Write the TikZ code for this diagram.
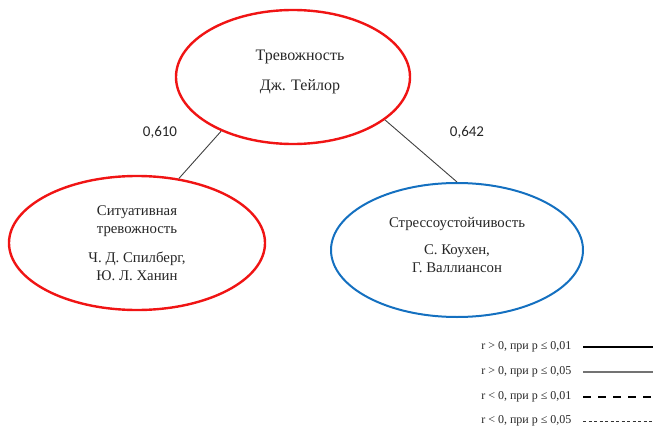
\documentclass[tikz,border=0pt]{standalone}
\usepackage{fontspec}
\setmainfont{Liberation Serif}
\newfontfamily\numfont{Carlito}
\usetikzlibrary{shapes.geometric}
\definecolor{ellred}{RGB}{240,20,20}
\definecolor{ellblue}{RGB}{20,112,192}
\begin{document}
\begin{tikzpicture}[x=1pt,y=-1pt,
  ell/.style={ellipse,inner sep=0pt,align=center,font=\fontsize{14.8}{17.5}\selectfont,text=black!85},
  redell/.style={ell,draw=ellred,line width=2.4pt},
  blueell/.style={ell,draw=ellblue,line width=2pt},
  link/.style={draw=black!75,line width=0.9pt},
  num/.style={font=\numfont\fontsize{15}{18}\selectfont,text=black!85},
  legtext/.style={font=\fontsize{12}{14}\selectfont,anchor=east,text=black!85},
]
\useasboundingbox (0,0) rectangle (653,428);
\node[redell,minimum width=234pt,minimum height=134pt] (top) at (293,77) {};
\node[ell,font=\fontsize{16}{19}\selectfont] (toptext) at (300,71.5)
  {Тревожность\\[11pt]Дж. Тейлор};
\node[redell,minimum width=256pt,minimum height=134pt] (left) at (137,243)
  {Ситуативная\\тревожность\\[12pt]Ч. Д. Спилберг,\\Ю. Л. Ханин};
\node[blueell,minimum width=252pt,minimum height=134pt] (right) at (457,250) {};
\node[ell] (righttext) at (457,245)
  {Стрессоустойчивость\\[10pt]С. Коухен,\\Г. Валлиансон};
\draw[link] (top.217) -- (left.57);
\draw[link] (top.-25) -- (right.90);
\node[num] (n1) at (160,132) {0,610};
\node[num] (n2) at (467,132) {0,642};
\node[legtext] (l1) at (575,347) {r > 0, при p ≤ 0,01};
\node[legtext] (l2) at (575,372) {r > 0, при p ≤ 0,05};
\node[legtext] (l3) at (575,397) {r < 0, при p ≤ 0,01};
\node[legtext] (l4) at (575,421) {r < 0, при p ≤ 0,05};
\coordinate (e1) at (653,347);
\coordinate (e2) at (653,372);
\coordinate (e3) at (653,397);
\coordinate (e4) at (653,421);
\draw[black,line width=2.4pt] ([xshift=8pt]l1.east) -- (e1);
\draw[black!55,line width=2pt] ([xshift=8pt]l2.east) -- (e2);
\draw[black,line width=2.2pt,dash pattern=on 8pt off 7pt] ([xshift=8pt]l3.east) -- (e3);
\draw[black!80,line width=1pt,dash pattern=on 3pt off 2.5pt] ([xshift=8pt]l4.east) -- (e4);
\end{tikzpicture}
\end{document}
